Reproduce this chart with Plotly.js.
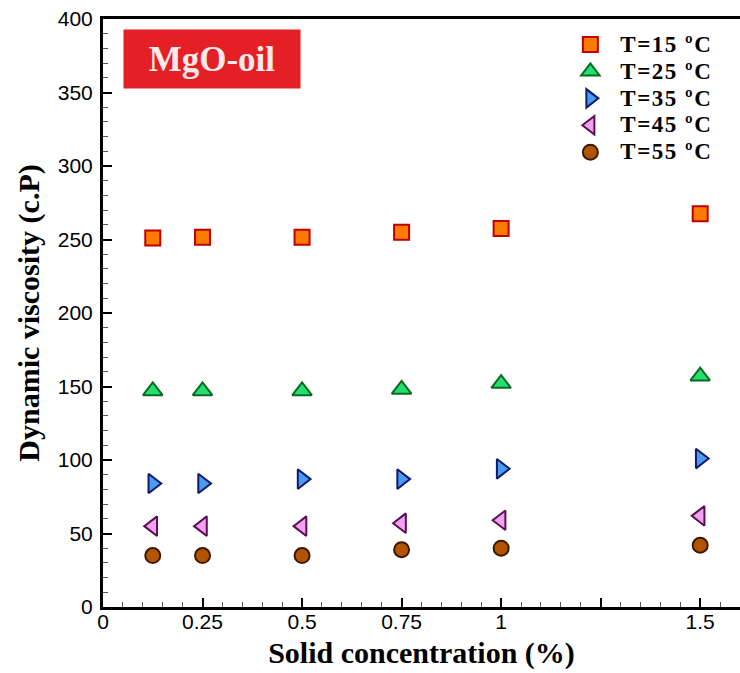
<!DOCTYPE html>
<html>
<head>
<meta charset="utf-8">
<script src="https://cdn.plot.ly/plotly-3.0.1.min.js"></script>
<style>html,body{margin:0;padding:0;background:#fff;}#chart{width:740px;height:673px;}</style>
</head>
<body>
<div id="chart"></div>
<script>
var concentration = [0.125, 0.25, 0.5, 0.75, 1, 1.5];
var seriesNames = ["T=15 \u00baC", "T=25 \u00baC", "T=35 \u00baC", "T=45 \u00baC", "T=55 \u00baC"];
var visc15 = [251, 251.5, 251.5, 255, 257.5, 267.5];
var visc25 = [147, 147, 147, 148, 152, 157];
var visc35 = [84, 84, 87, 87, 94, 101];
var visc45 = [55, 55, 55, 57, 59, 62];
var visc55 = [35, 35, 35, 39, 40, 42];
var xTickVals = [0, 0.25, 0.5, 0.75, 1, 1.25, 1.5];
var xTickText = ["0", "0.25", "0.5", "0.75", "1", "", "1.5"];
var yTickVals = [0, 50, 100, 150, 200, 250, 300, 350, 400];
var yTickText = ["0", "50", "100", "150", "200", "250", "300", "350", "400"];

var styles = [
  {symbol: "square", size: 15, fill: "#ff7a00", line: "#c00000"},
  {symbol: "triangle-up", size: 17, fill: "#22e070", line: "#0b6a20"},
  {symbol: "triangle-right", size: 17, fill: "#4a9cf0", line: "#10196e"},
  {symbol: "triangle-left", size: 17, fill: "#f2a0f2", line: "#5a1050"},
  {symbol: "circle", size: 15, fill: "#b35400", line: "#3a1800"}
];
var allSeries = [visc15, visc25, visc35, visc45, visc55];
var traces = allSeries.map(function (ys, i) {
  return {
    x: concentration, y: ys, type: "scatter", mode: "markers",
    name: '<span style="font-size:23px;letter-spacing:1.5px">' + seriesNames[i] + '</span>',
    marker: {symbol: styles[i].symbol, size: styles[i].size, color: styles[i].fill,
             line: {color: styles[i].line, width: 2}}
  };
});

var serif = "Liberation Serif, Times New Roman, serif";
var sans = "Liberation Sans, Arial, sans-serif";
var layout = {
  width: 740, height: 673,
  margin: {l: 103, r: 0, t: 19, b: 66},
  paper_bgcolor: "#fff", plot_bgcolor: "#fff",
  showlegend: true,
  legend: {x: 0.718, y: 0.988, xanchor: "left", yanchor: "top", bgcolor: "rgba(0,0,0,0)",
           itemwidth: 50,
           font: {family: serif, size: 18.4, color: "#000", weight: "bold"}, tracegroupgap: 0},
  xaxis: {
    range: [0, 1.6], tickmode: "array", tickvals: xTickVals, ticktext: xTickText,
    ticks: "inside", ticklen: 9, tickwidth: 2, tickcolor: "#000",
    minor: {ticks: "inside", ticklen: 5, tickwidth: 1, tickcolor: "#555", tickmode: "linear", tick0: 0, dtick: 0.05},
    showline: true, linewidth: 3, linecolor: "#000", mirror: true, showgrid: false, zeroline: false,
    tickfont: {family: sans, size: 21, color: "#000"}, ticklabelstandoff: -6,
    title: {text: "Solid concentration (%)", font: {family: serif, size: 30, color: "#000", weight: "bold"}, standoff: 10}
  },
  yaxis: {
    range: [0, 400], tickmode: "array", tickvals: yTickVals, ticktext: yTickText,
    ticks: "inside", ticklen: 9, tickwidth: 2, tickcolor: "#000",
    minor: {ticks: "inside", ticklen: 5, tickwidth: 1, tickcolor: "#555", tickmode: "linear", tick0: 0, dtick: 10},
    showline: true, linewidth: 3, linecolor: "#000", mirror: true, showgrid: false, zeroline: false,
    tickfont: {family: sans, size: 21, color: "#000"}, ticklabelstandoff: 3,
    title: {text: "Dynamic viscosity (c.P)", font: {family: serif, size: 30, color: "#000", weight: "bold"}, standoff: 10}
  },
  annotations: [{
    xref: "paper", yref: "paper", x: 0.171, y: 0.932, xanchor: "center", yanchor: "middle",
    text: "MgO-oil", showarrow: false, bgcolor: "#e41f26", width: 170, height: 52, borderpad: 3,
    font: {family: serif, size: 35, color: "#fde9e9", weight: "bold"}
  }]
};
Plotly.newPlot("chart", traces, layout, {displayModeBar: false, staticPlot: true});
</script>
</body>
</html>
